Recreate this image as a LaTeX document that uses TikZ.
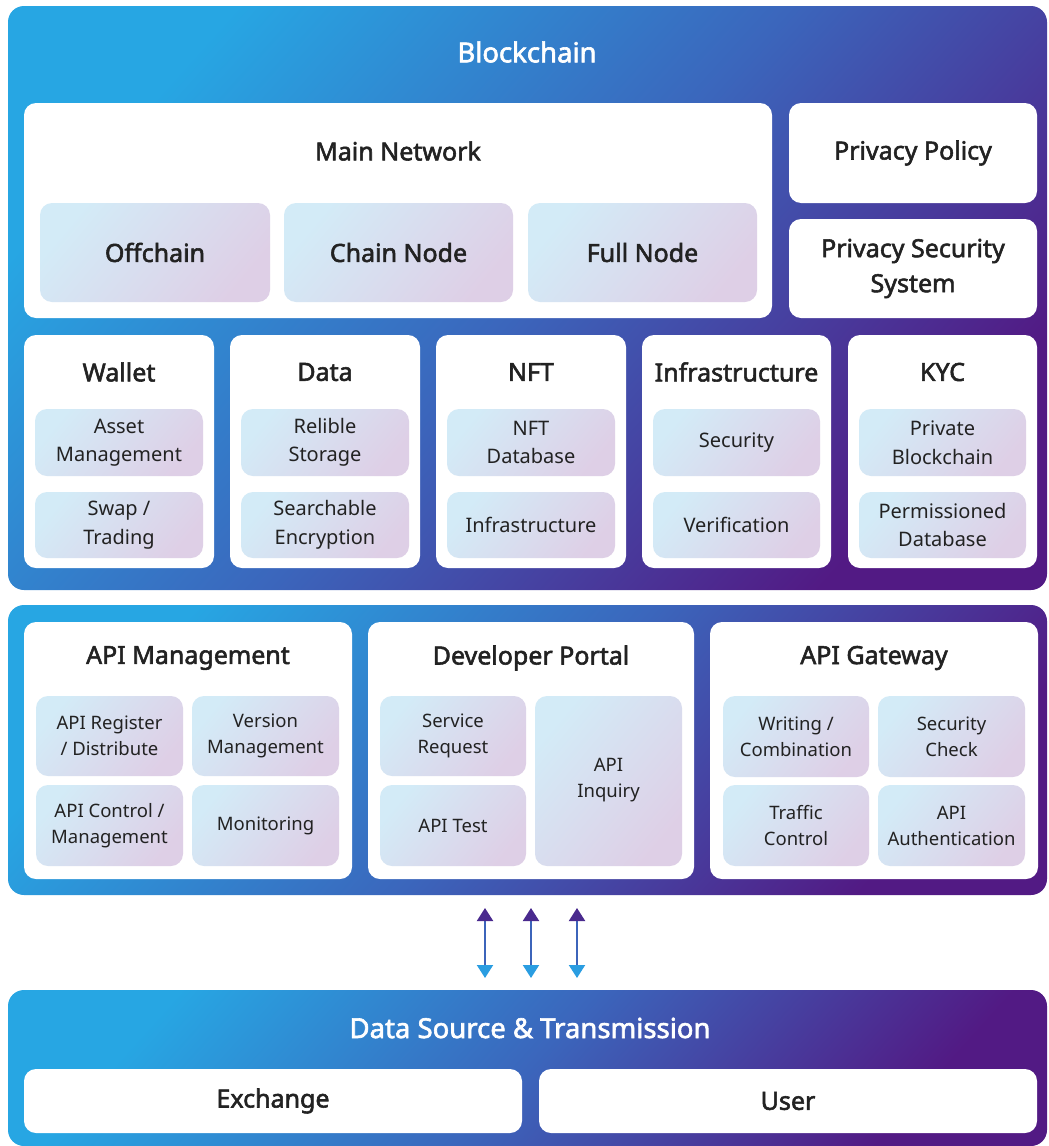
\documentclass[tikz,border=0pt]{standalone}
\usepackage{fontspec}
\setmainfont{Noto Sans}[AutoFakeBold=2.2]
\usetikzlibrary{arrows.meta,fit}
\definecolor{pA}{HTML}{27A6E3}
\definecolor{pM}{HTML}{3B66BC}
\definecolor{pB}{HTML}{521A84}
\definecolor{iA}{HTML}{D3EBF7}
\definecolor{iB}{HTML}{DECFE6}
\definecolor{txt}{HTML}{222222}
\definecolor{arTop}{HTML}{4A2A8E}
\definecolor{arMid}{HTML}{3C64BA}
\definecolor{arBot}{HTML}{2A9DE1}
\tikzset{
  panel/.style={rounded corners=16pt, top color=pA, bottom color=pB, middle color=pM, shading angle=48, inner sep=0pt},
  wbox/.style={fill=white, rounded corners=12pt, inner sep=0pt},
  ibox/.style={rounded corners=12pt, top color=iA, bottom color=iB, shading angle=50, inner sep=0pt},
  tx/.style={text=txt, align=center, inner sep=0pt},
  big/.style={tx, font=\bfseries\fontsize{25}{35}\selectfont},
  mid/.style={tx, font=\fontsize{20}{28.5}\selectfont},
  sml/.style={tx, font=\fontsize{18.5}{26}\selectfont},
  hd/.style={text=txt, font=\bfseries\fontsize{25}{30}\selectfont, inner sep=0pt},
  wt/.style={text=white, font=\bfseries\fontsize{27.5}{32}\selectfont, inner sep=0pt},
  dbl/.style={line width=2pt, draw=arMid, arrows={Triangle[width=16pt,length=13pt,color=arTop]-Triangle[width=16pt,length=13pt,color=arBot]}}
}
\begin{document}
\begin{tikzpicture}[x=1pt,y=-1pt]
\useasboundingbox (0,0) rectangle (1049,1146);
% ---------- Blockchain panel
\node[panel, fit={(8,6) (1047,590)}] (bc) {};
\node[wt] (bct) at (527,52) {Blockchain};
\node[wbox, fit={(24,103) (772,318)}] (mn) {};
\node[hd] (mnt) at (398,151) {Main Network};
\node[ibox, fit={(40,203) (270,302)}] (off) {};
\node[big] at (off.center) {Offchain};
\node[ibox, fit={(284,203) (513,302)}] (cn) {};
\node[big] at (cn.center) {Chain Node};
\node[ibox, fit={(528,203) (757,302)}] (fn) {};
\node[big] at (fn.center) {Full Node};
\node[wbox, fit={(789,103) (1037,203)}] (pp) {};
\node[big] at (pp.center) {Privacy Policy};
\node[wbox, fit={(789,219) (1037,318)}] (pss) {};
\node[big] at (pss.center) {Privacy Security\\System};
% row of five
\node[wbox, fit={(24,335) (214,568)}] (wal) {};
\node[hd] at (119,372) {Wallet};
\node[ibox, fit={(35,409) (203,476)}] (w1) {};
\node[mid] at (w1.center) {Asset\\Management};
\node[ibox, fit={(35,492) (203,558)}] (w2) {};
\node[mid] at (w2.center) {Swap /\\Trading};
\node[wbox, fit={(230,335) (420,568)}] (dat) {};
\node[hd] at (325,372) {Data};
\node[ibox, fit={(241,409) (409,476)}] (d1) {};
\node[mid] at (d1.center) {Relible\\Storage};
\node[ibox, fit={(241,492) (409,558)}] (d2) {};
\node[mid] at (d2.center) {Searchable\\Encryption};
\node[wbox, fit={(436,335) (626,568)}] (nft) {};
\node[hd] at (531,372) {NFT};
\node[ibox, fit={(447,409) (615,476)}] (n1) {};
\node[mid] at (n1.center) {NFT\\Database};
\node[ibox, fit={(447,492) (615,558)}] (n2) {};
\node[mid] at (n2.center) {Infrastructure};
\node[wbox, fit={(642,335) (831,568)}] (inf) {};
\node[hd] at (736.5,372) {Infrastructure};
\node[ibox, fit={(653,409) (820,476)}] (i1) {};
\node[mid] at (i1.center) {Security};
\node[ibox, fit={(653,492) (820,558)}] (i2) {};
\node[mid] at (i2.center) {Verification};
\node[wbox, fit={(848,335) (1037,568)}] (kyc) {};
\node[hd] at (942.5,372) {KYC};
\node[ibox, fit={(859,409) (1026,476)}] (k1) {};
\node[mid] at (k1.center) {Private\\Blockchain};
\node[ibox, fit={(859,492) (1026,558)}] (k2) {};
\node[mid] at (k2.center) {Permissioned\\Database};
% ---------- API panel
\node[panel, fit={(8,605) (1047,895)}] (api) {};
\node[wbox, fit={(24,622) (352,879)}] (am) {};
\node[hd] at (188,658) {API Management};
\node[ibox, fit={(36,696) (183,776)}] (am1) {};
\node[sml] at (am1.center) {API Register\\/ Distribute};
\node[ibox, fit={(192,696) (339,776)}] (am2) {};
\node[sml] at (am2.center) {Version\\Management};
\node[ibox, fit={(36,785) (183,866)}] (am3) {};
\node[sml] at (am3.center) {API Control /\\Management};
\node[ibox, fit={(192,785) (339,866)}] (am4) {};
\node[sml] at (am4.center) {Monitoring};
\node[wbox, fit={(368,622) (694,879)}] (dp) {};
\node[hd] at (531,658) {Developer Portal};
\node[ibox, fit={(380,696) (526,776)}] (dp1) {};
\node[sml] at (dp1.center) {Service\\Request};
\node[ibox, fit={(380,785) (526,866)}] (dp2) {};
\node[sml] at (dp2.center) {API Test};
\node[ibox, fit={(535,696) (682,866)}] (dp3) {};
\node[sml] at (608.5,780) {API\\Inquiry};
\node[wbox, fit={(710,622) (1038,879)}] (ag) {};
\node[hd] at (874,658) {API Gateway};
\node[ibox, fit={(723,696) (869,777)}] (ag1) {};
\node[sml] at (ag1.center) {Writing /\\Combination};
\node[ibox, fit={(878,696) (1025,777)}] (ag2) {};
\node[sml] at (ag2.center) {Security\\Check};
\node[ibox, fit={(723,785) (869,866)}] (ag3) {};
\node[sml] at (ag3.center) {Traffic\\Control};
\node[ibox, fit={(878,785) (1025,866)}] (ag4) {};
\node[sml] at (ag4.center) {API\\Authentication};
% ---------- arrows
\coordinate (u1) at (485,908); \coordinate (b1) at (485,978);
\coordinate (u2) at (531,908); \coordinate (b2) at (531,978);
\coordinate (u3) at (577,908); \coordinate (b3) at (577,978);
\draw[dbl] (u1) -- (b1);
\draw[dbl] (u2) -- (b2);
\draw[dbl] (u3) -- (b3);
% ---------- Data source panel
\node[panel, fit={(8,990) (1047,1146)}] (ds) {};
\node[wt] (dst) at (530,1028) {Data Source \& Transmission};
\node[wbox, fit={(24,1069) (522,1133)}] (ex) {};
\node[big] at (ex.center) {Exchange};
\node[wbox, fit={(539,1069) (1037,1133)}] (us) {};
\node[big] at (us.center) {User};
\end{tikzpicture}
\end{document}
